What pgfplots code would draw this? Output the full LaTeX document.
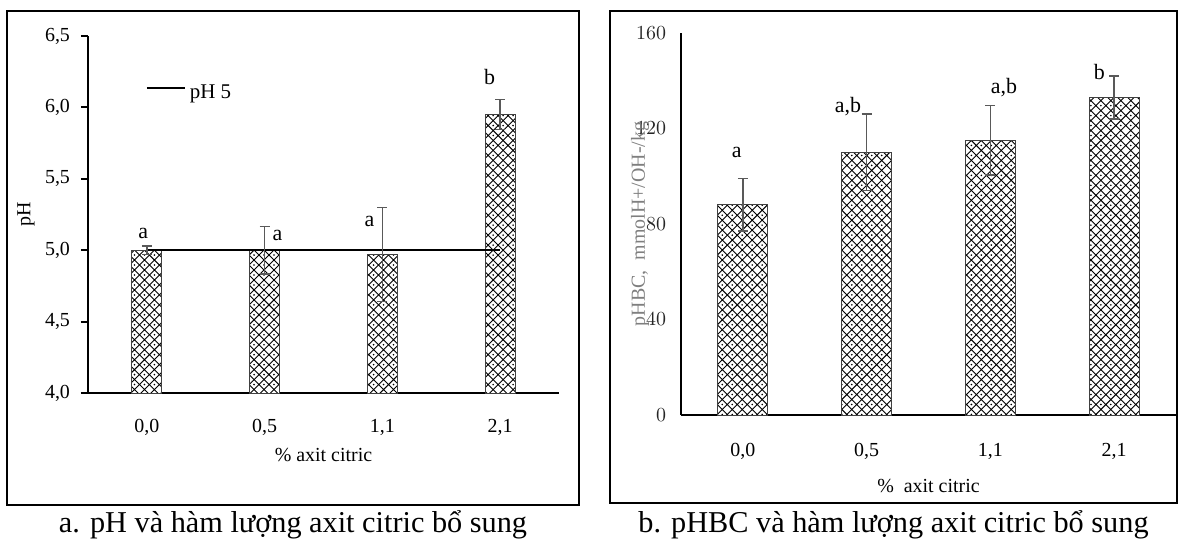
\documentclass[border=0pt]{standalone}
\usepackage{pgfplots}
\pgfplotsset{compat=1.18}
\usepackage{fontspec}
\setmainfont{Liberation Serif}
\usetikzlibrary{patterns}
\definecolor{errgray}{HTML}{595959}
\definecolor{labgray}{HTML}{7F7F7F}
\pgfdeclarepatternformonly{dotdiamond}{\pgfqpoint{-0.5pt}{-0.5pt}}{\pgfqpoint{5.5pt}{5.5pt}}{\pgfqpoint{5pt}{5pt}}{%
  \pgfsetlinewidth{0.45pt}%
  \pgfpathmoveto{\pgfqpoint{0pt}{2.5pt}}\pgfpathlineto{\pgfqpoint{2.5pt}{5pt}}%
  \pgfpathlineto{\pgfqpoint{5pt}{2.5pt}}\pgfpathlineto{\pgfqpoint{2.5pt}{0pt}}\pgfpathclose
  \pgfusepath{stroke}%
  \pgfpathcircle{\pgfqpoint{2.5pt}{2.5pt}}{0.45pt}%
  \pgfusepath{fill}%
}
\tikzset{lettr/.style={font=\fontsize{11}{12}\selectfont, anchor=center}}
\pgfplotsset{
  myax/.style={scale only axis, anchor=south west, xmin=-0.5, xmax=3.5,
    axis lines=left, axis line style={-, line width=1bp, black},
    xtick={0,1,2,3}, xticklabels={{0,0},{0,5},{1,1},{2,1}},
    x tick style={draw=none},
    tick label style={font=\fontsize{10}{11}\selectfont},
    label style={font=\fontsize{12.8}{14}\selectfont}},
  barst/.style={ybar, bar shift=0pt, fill=white, draw=black!75, line width=0.5bp, postaction={pattern=dotdiamond}},
  errst/.style={draw=none, mark=none, forget plot, error bars/.cd, y dir=both, y explicit,
    error bar style={draw=errgray, line width=0.8bp},
    error mark options={rotate=90, mark size=2.5bp, line width=0.8bp, draw=errgray}}
}
\begin{document}
\begin{tikzpicture}
\useasboundingbox (0,0) rectangle (589bp,-269.5bp);
% frames
\draw[line width=1bp] (3.5bp,-5.5bp) rectangle (289.5bp,-252.5bp);
\draw[line width=1bp] (305bp,-5.5bp) rectangle (588.5bp,-251.5bp);
\node[font=\fontsize{15.2}{17}\selectfont, anchor=base] at (146.5bp,-266bp) {a. pH và hàm lượng axit citric bổ sung};
\node[font=\fontsize{15.2}{17}\selectfont, anchor=base] at (446.75bp,-266bp) {b. pHBC và hàm lượng axit citric bổ sung};

% left panel
\begin{axis}[myax, at={(44bp,-196.5bp)}, width=235.5bp, height=178.5bp,
  ymin=4, ymax=6.5, ytick={4,4.5,5,5.5,6,6.5},
  yticklabels={{4,0},{4,5},{5,0},{5,5},{6,0},{6,5}},
  tick align=outside, y tick style={line width=1bp, black}, major tick length=3.5bp,
  xticklabel style={yshift=-6bp},
  yticklabel style={xshift=-2bp},
  xlabel={\% axit citric}, ylabel={pH},
  every axis x label/.style={at={([yshift=-31bp]axis description cs:0.5,0)}, anchor=center},
  every axis y label/.style={at={([xshift=-31bp]axis description cs:0,0.5)}, rotate=90, anchor=center}]
\addplot[barst, bar width=15bp] coordinates {(0,5.00) (1,5.00) (2,4.97) (3,5.95)};
\addplot[black, line width=1bp] coordinates {(0,5) (3,5)};
\addplot[errst] coordinates {(0,5.00) +- (0,0.03) (1,5.00) +- (0,0.165) (2,4.97) +- (0,0.33) (3,5.95) +- (0,0.105)};
\addplot[black, line width=1bp] coordinates {(0,6.136) (0.32,6.136)};
\node[anchor=base west, font=\fontsize{10.5}{11}\selectfont, inner sep=1bp] at (axis cs:0.345,6.06) {pH 5};
\node[lettr] at (axis cs:-0.03,5.12) {a};
\node[lettr] at (axis cs:1.11,5.10) {a};
\node[lettr] at (axis cs:1.89,5.20) {a};
\node[lettr] at (axis cs:2.91,6.21) {b};
\end{axis}

% right panel
\begin{axis}[myax, at={(340.5bp,-207.5bp)}, width=247.5bp, height=191bp,
  ymin=0, ymax=160, ytick={0,40,80,120,160},
  y tick style={draw=none}, major tick length=0bp,
  yticklabel style={black!85, xshift=-4bp},
  xticklabel style={yshift=-10.5bp},
  xlabel={\%\ \ axit citric}, ylabel={pHBC,\ \ mmolH+/OH-/kg},
  every axis x label/.style={at={([yshift=-35.5bp]axis description cs:0.5,0)}, anchor=center},
  every axis y label/.style={at={([xshift=-20.5bp]axis description cs:0,0.5)}, rotate=90, anchor=center, labgray}]
\addplot[barst, bar width=25bp] coordinates {(0,88) (1,110) (2,115) (3,133)};
\addplot[errst] coordinates {(0,88) +- (0,11) (1,110) +- (0,16) (2,115) +- (0,14.6) (3,133) +- (0,9)};
\node[lettr] at (axis cs:-0.05,109.8) {a};
\node[lettr] at (axis cs:0.85,129) {a,b};
\node[lettr] at (axis cs:2.11,137) {a,b};
\node[lettr] at (axis cs:2.88,143.5) {b};
\end{axis}
\end{tikzpicture}
\end{document}
